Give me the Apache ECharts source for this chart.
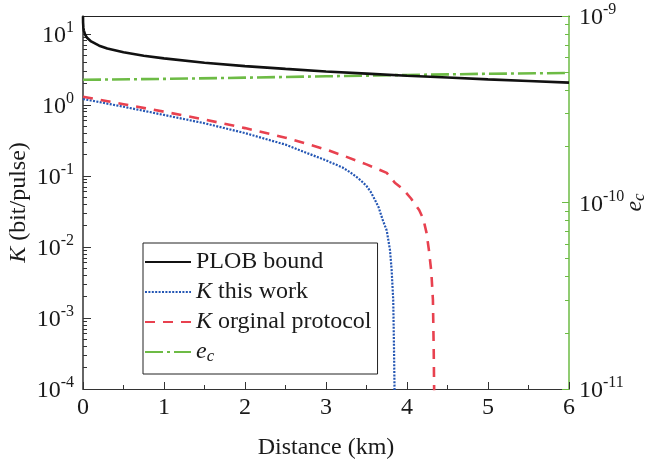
<!DOCTYPE html>
<html><head><meta charset="utf-8">
<script src="https://cdn.jsdelivr.net/npm/echarts@6/dist/echarts.min.js"></script>
<style>html,body{margin:0;padding:0;background:#fff}#c{width:649px;height:466px}</style>
</head><body><div id="c"></div>
<script>
// ---- data ----
var xTicks = [0, 1, 2, 3, 4, 5, 6];
var leftExps = [-4, -3, -2, -1, 0, 1];
var rightExps = [-11, -10, -9];

var plobDist = [0.0001, 0.001, 0.005, 0.01, 0.03, 0.05, 0.1, 0.2, 0.3, 0.5, 0.75, 1, 1.5, 2, 2.5, 3, 3.5, 4, 4.5, 5, 5.5, 6];
var plobK    = [17.7, 14.4, 12.1, 11.1, 9.5, 8.8, 7.8, 6.8, 6.2, 5.5, 4.9, 4.5, 3.9, 3.5, 3.2, 2.95, 2.75, 2.57, 2.42, 2.28, 2.16, 2.05];

var thisDist = [0, 0.5, 1, 1.5, 2, 2.5, 3, 3.2, 3.3, 3.4, 3.45, 3.5, 3.55, 3.6, 3.65, 3.7, 3.75, 3.79, 3.81, 3.83, 3.84, 3.846, 3.85];
var thisK    = [1.21, 0.94, 0.72, 0.55, 0.40, 0.275, 0.165, 0.132, 0.112, 0.092, 0.082, 0.072, 0.060, 0.047, 0.036, 0.024, 0.017, 0.009, 0.0048, 0.0018, 0.00035, 0.0001, 0.00001];

var origDist = [0, 0.5, 1, 1.5, 2, 2.5, 3, 3.2, 3.5, 3.6, 3.75, 3.85, 3.95, 4.05, 4.15, 4.2, 4.24, 4.27, 4.3, 4.32, 4.33, 4.335, 4.34];
var origK    = [1.30, 1.02, 0.80, 0.62, 0.47, 0.345, 0.235, 0.195, 0.145, 0.13, 0.11, 0.08, 0.065, 0.048, 0.033, 0.025, 0.016, 0.0091, 0.0045, 0.0018, 0.00035, 0.0001, 0.00001];

var ecDist = [0, 1, 2, 3, 4, 5, 6];
var ecVal  = [4.55e-10, 4.6e-10, 4.67e-10, 4.75e-10, 4.83e-10, 4.9e-10, 4.95e-10];

// ---- build ----
var FONT = 'Liberation Serif';
var FS = 24;
function pairs(xs, ys) { return xs.map(function (x, i) { return [x, Math.log10(ys[i])]; }); }
function minorLogs(lo, hi) {
  var out = [];
  for (var e = lo; e < hi; e++) for (var k = 2; k <= 9; k++) out.push(e + Math.log10(k));
  return out;
}
var supRich = {
  a: { fontSize: FS, fontFamily: FONT, color: '#1a1a1a', lineHeight: 28, verticalAlign: 'bottom' },
  b: { fontSize: 16, fontFamily: FONT, color: '#1a1a1a', lineHeight: 16, verticalAlign: 'top' }
};
function powLabel(v) { return '{a|10}{b|' + Math.round(v) + '}'; }

var GREEN = '#6dbb45', BLUE = '#2456b4', RED = '#e8414f';

var chart = echarts.init(document.getElementById('c'), null, { renderer: 'canvas' });
chart.setOption({
  animation: false,
  backgroundColor: '#fff',
  grid: { left: 83, right: 80, top: 16, bottom: 77, containLabel: false, outerBoundsMode: 'none' },
  legend: {
    orient: 'vertical', left: 143, top: 243,
    padding: [7, 6, 9, 1], itemGap: 6, itemWidth: 46, itemHeight: 24,
    borderColor: '#222', borderWidth: 1,
    itemStyle: { opacity: 0 },
    data: ['PLOB bound', 'K this work', 'K orginal protocol', 'e_c'],
    textStyle: {
      fontFamily: FONT, fontSize: FS, color: '#1a1a1a',
      rich: {
        i: { fontFamily: FONT, fontSize: FS, fontStyle: 'italic', color: '#1a1a1a' },
        s: { fontFamily: FONT, fontSize: 17, fontStyle: 'italic', color: '#1a1a1a', verticalAlign: 'bottom', padding: [9, 0, 0, 0] },
        n: { fontFamily: FONT, fontSize: FS, color: '#1a1a1a' }
      }
    },
    formatter: function (name) {
      if (name === 'K this work') return '{i|K}{n| this work}';
      if (name === 'K orginal protocol') return '{i|K}{n| orginal protocol}';
      if (name === 'e_c') return '{i|e}{s|c}';
      return '{n|' + name + '}';
    }
  },
  xAxis: [{
    type: 'value', min: 0, max: 6, interval: 1, position: 'bottom',
    name: 'Distance (km)', nameLocation: 'middle', nameGap: 47, nameMoveOverlap: false,
    nameTextStyle: { fontFamily: FONT, fontSize: FS, color: '#1a1a1a' },
    axisLine: { show: true, onZero: false, lineStyle: { color: '#333', width: 1.2 } },
    axisTick: { show: true, inside: true, length: 7, lineStyle: { color: '#333' } },
    minorTick: { show: true, splitNumber: 2, length: 4, lineStyle: { color: '#333' } },
    axisLabel: { fontFamily: FONT, fontSize: FS, color: '#1a1a1a', margin: 7, customValues: xTicks },
    splitLine: { show: false }
  }, {
    type: 'value', min: 0, max: 6, position: 'top',
    axisLine: { show: true, onZero: false, lineStyle: { color: '#222', width: 1.2 } },
    axisTick: { show: false }, axisLabel: { show: false }, splitLine: { show: false }
  }],
  yAxis: [{
    type: 'value', min: -4, max: 1.25, position: 'left',
    name: '{i|K}{n| (bit/pulse)}', nameLocation: 'middle', nameGap: 52, nameRotate: 90, nameMoveOverlap: false,
    nameTextStyle: {
      rich: {
        i: { fontFamily: FONT, fontSize: FS, fontStyle: 'italic', color: '#1a1a1a' },
        n: { fontFamily: FONT, fontSize: FS, color: '#1a1a1a' }
      }
    },
    axisLine: { show: true, onZero: false, lineStyle: { color: '#333', width: 1.5 } },
    axisTick: { show: true, inside: true, length: 8, customValues: leftExps, lineStyle: { color: '#333' } },
    axisLabel: { margin: 9, customValues: leftExps, formatter: powLabel, rich: supRich },
    splitLine: { show: false }
  }, {
    type: 'value', min: -4, max: 1.25, position: 'left',
    axisLine: { show: false, onZero: false },
    axisTick: { show: true, inside: true, length: 4, customValues: minorLogs(-4, 2).filter(function (v) { return v <= 1.25; }), lineStyle: { color: '#333' } },
    axisLabel: { show: false }, splitLine: { show: false }
  }, {
    type: 'value', min: -11, max: -9, position: 'right',
    name: '{i|e}{s|c}', nameLocation: 'middle', nameGap: 53, nameRotate: 90, nameMoveOverlap: false,
    nameTextStyle: {
      rich: {
        i: { fontFamily: FONT, fontSize: FS, fontStyle: 'italic', color: '#1a1a1a' },
        s: { fontFamily: FONT, fontSize: 17, fontStyle: 'italic', color: '#1a1a1a', verticalAlign: 'bottom', padding: [9, 0, 0, 0] }
      }
    },
    axisLine: { show: true, onZero: false, lineStyle: { color: GREEN, width: 1.5 } },
    axisTick: { show: true, inside: true, length: 7, customValues: rightExps, lineStyle: { color: GREEN } },
    axisLabel: { margin: 10, customValues: rightExps, formatter: powLabel, rich: supRich },
    splitLine: { show: false }
  }, {
    type: 'value', min: -11, max: -9, position: 'right',
    axisLine: { show: false, onZero: false },
    axisTick: { show: true, inside: true, length: 4, customValues: minorLogs(-11, -9), lineStyle: { color: GREEN } },
    axisLabel: { show: false }, splitLine: { show: false }
  }],
  series: [{
    name: 'PLOB bound', type: 'line', xAxisIndex: 0, yAxisIndex: 0, symbol: 'none', z: 5,
    data: pairs(plobDist, plobK),
    lineStyle: { color: '#111', width: 2.6, type: 'solid' }, itemStyle: { color: '#111' }
  }, {
    name: 'K this work', type: 'line', xAxisIndex: 0, yAxisIndex: 0, symbol: 'none', z: 3,
    data: pairs(thisDist, thisK),
    lineStyle: { color: BLUE, width: 2.2, type: [2, 1.4] }, itemStyle: { color: BLUE }
  }, {
    name: 'K orginal protocol', type: 'line', xAxisIndex: 0, yAxisIndex: 0, symbol: 'none', z: 3,
    data: pairs(origDist, origK),
    lineStyle: { color: RED, width: 2.6, type: [10, 8] }, itemStyle: { color: RED }
  }, {
    name: 'e_c', type: 'line', xAxisIndex: 0, yAxisIndex: 2, symbol: 'none', z: 4,
    data: pairs(ecDist, ecVal),
    lineStyle: { color: GREEN, width: 2.6, type: [18, 4, 3, 4] }, itemStyle: { color: GREEN }
  }]
});
</script></body></html>
